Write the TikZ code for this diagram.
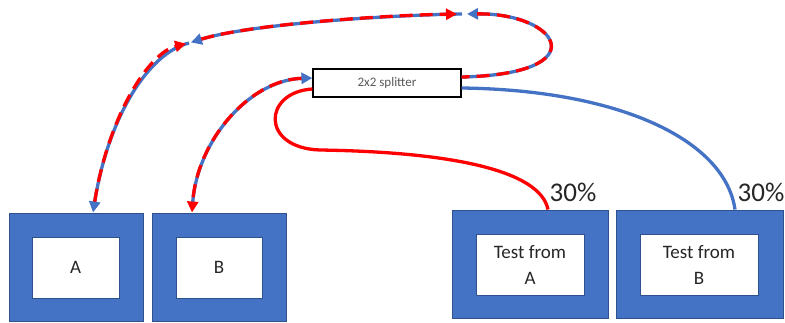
\documentclass[tikz,border=0pt]{standalone}
\usepackage{fontspec}
\setmainfont{Carlito}
\usetikzlibrary{arrows.meta}
\definecolor{obl}{HTML}{4472C4}
\definecolor{obd}{HTML}{2F528F}
\definecolor{ored}{HTML}{FF0000}
\definecolor{txt}{HTML}{262626}
\begin{document}
\begin{tikzpicture}[x=1pt,y=-1pt,
  outerbox/.style={draw=obd, line width=1pt, fill=obl, minimum height=108pt, inner sep=0pt},
  innerbox/.style={draw=obd, line width=1pt, fill=white, minimum height=61pt, inner sep=0pt,
    align=center, text=txt, font=\fontsize{19}{26}\selectfont},
  pct/.style={text=txt, font=\fontsize{27}{30}\selectfont, inner sep=0pt},
  bline/.style={draw=obl, line width=3.3pt},
  rline/.style={draw=ored, line width=3.3pt, dash pattern=on 13pt off 7pt},
  rsolid/.style={draw=ored, line width=3.3pt},
  arr/.style={-{Triangle[length=11pt,width=11pt]}}
]
\useasboundingbox (0,0) rectangle (785,322);

% boxes
\node[outerbox, minimum width=134pt] (Aout) at (76,267) {};
\node[innerbox, minimum width=87pt] (Ain) at (75.5,267.5) {A};
\node[outerbox, minimum width=134pt] (Bout) at (219,267) {};
\node[innerbox, minimum width=86pt] (Bin) at (219,267.5) {B};
\node[outerbox, minimum width=156pt] (TAout) at (530,264) {};
\node[innerbox, minimum width=108pt] (TAin) at (530,264.5) {Test from\\A};
\node[outerbox, minimum width=167pt] (TBout) at (699.5,264) {};
\node[innerbox, minimum width=118pt] (TBin) at (699,264.5) {Test from\\B};

\node[pct] (pA) at (573,192) {30\%};
\node[pct] (pB) at (761,192) {30\%};

% splitter
\node[draw=black, line width=1.2pt, fill=white, minimum width=148pt, minimum height=28pt,
  inner sep=0pt, text={rgb,255:red,89;green,89;blue,89}, font=\fontsize{13}{15}\selectfont] (split) at (387,83) {2x2 splitter};

% connector end points
\coordinate (P0) at ([xshift=17pt]Aout.north);
\coordinate (P1) at ([xshift=-27pt]Bout.north);
\coordinate (S1) at ([yshift=6pt]split.east);
\coordinate (S2) at ([yshift=5pt]split.west);
\coordinate (S3) at ([yshift=-6pt]split.west);
\coordinate (S4) at ([yshift=-5pt]split.east);
\coordinate (T1) at ([xshift=18pt]TAout.north);
\coordinate (T2) at ([xshift=35.5pt]TBout.north);
\coordinate (Q1) at (189,43);
\coordinate (Q2) at (462,14);
\coordinate (M1) at (320,150);

% solid outputs
\draw[rsolid] (S3) .. controls (263,92) and (260,148) .. (M1) .. controls (450,152) and (540,170) .. (T1);
\draw[bline] (S4) .. controls (620,90) and (725,140) .. (T2);

% blue directions
\draw[bline, arr, shorten >=5pt] (S1) .. controls (597,74) and (560,13) .. (Q2);
\draw[bline, arr, shorten >=2pt] (Q2) .. controls (390,15) and (250,24) .. (Q1);
\draw[bline, arr] (Q1) .. controls (148,53) and (108,118) .. (P0);
\draw[bline, arr, shorten <=9pt] (P1) .. controls (197,140) and (250,80) .. (S2);

% red directions
\draw[rline, arr, shorten <=11pt, shorten >=3pt] (P0) .. controls (108,118) and (148,53) .. (Q1);
\draw[rline, arr, shorten <=13pt, shorten >=5pt] (Q1) .. controls (250,24) and (390,15) .. (Q2);
\draw[rline, shorten <=15pt] (Q2) .. controls (560,13) and (597,74) .. (S1);
\draw[rline, arr, shorten <=11pt] (S2) .. controls (250,80) and (197,140) .. (P1);
\end{tikzpicture}
\end{document}
